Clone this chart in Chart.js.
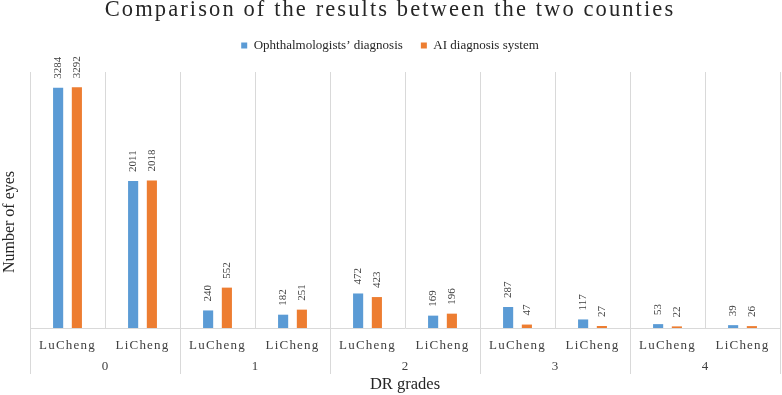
<!DOCTYPE html>
<html>
<head>
<meta charset="utf-8">
<script src="https://cdn.jsdelivr.net/npm/chart.js@4/dist/chart.umd.min.js"></script>
<style>
  html, body { margin: 0; padding: 0; background: #ffffff; }
  #wrap { width: 782px; height: 395px; position: relative; }
</style>
</head>
<body>
<div id="wrap"><canvas id="c" width="782" height="395"></canvas></div>
<script>
const counties = ['LuCheng', 'LiCheng', 'LuCheng', 'LiCheng', 'LuCheng', 'LiCheng', 'LuCheng', 'LiCheng', 'LuCheng', 'LiCheng'];
const grades = ['0', '1', '2', '3', '4'];
const ophthalmologists = [3284, 2011, 240, 182, 472, 169, 287, 117, 53, 39];
const aiSystem = [3292, 2018, 552, 251, 423, 196, 47, 27, 22, 26];

const SERIF = '"Liberation Serif", "Times New Roman", serif';
const GRID = '#d9d9d9';

const patches = {
  id: 'patches',
  beforeLayout(chart) {
    const lg = chart.legend;
    if (lg && !lg._sp) {
      const o = lg.fit.bind(lg);
      lg.fit = function () { o(); this.height = 51; };
      lg._sp = true;
    }
  },
  beforeDraw(chart) {
    const tb = chart.titleBlock;
    if (tb && !tb._sp) {
      const o = tb.draw.bind(tb);
      tb.draw = function () { const c = this.ctx; c.save(); c.letterSpacing = '2.1px'; o(); c.restore(); };
      tb._sp = true;
    }
    const sx = chart.scales.x;
    if (sx && !sx._sp) {
      const o2 = sx.drawLabels.bind(sx);
      sx.drawLabels = function (a) { const c = this.ctx; c.save(); c.letterSpacing = '1.2px'; o2(a); c.restore(); };
      sx._sp = true;
    }
    const sy = chart.scales.y;
    if (sy && !sy._sp) {
      const o3 = sy.drawTitle.bind(sy);
      sy.drawTitle = function (a) { const c = this.ctx; c.save(); c.translate(0, 22); o3(a); c.restore(); };
      sy._sp = true;
    }
  }
};

const extras = {
  id: 'extras',
  afterDatasetsDraw(chart) {
    const ctx = chart.ctx;
    ctx.save();
    ctx.font = '11px ' + SERIF;
    ctx.fillStyle = '#404040';
    ctx.textAlign = 'left';
    ctx.textBaseline = 'middle';
    chart.data.datasets.forEach((ds, di) => {
      const meta = chart.getDatasetMeta(di);
      meta.data.forEach((bar, i) => {
        ctx.save();
        ctx.translate(bar.x, bar.y - 9);
        ctx.rotate(-Math.PI / 2);
        ctx.fillText(String(ds.data[i]), 0, 0);
        ctx.restore();
      });
    });
    ctx.restore();
  },
  afterDraw(chart) {
    const sx = chart.scales.x;
    const ctx = chart.ctx;
    const half = (sx.getPixelForTick(1) - sx.getPixelForTick(0)) / 2;
    const y0 = chart.chartArea.bottom;
    const y1 = y0 + 46;
    ctx.save();
    ctx.strokeStyle = GRID;
    ctx.lineWidth = 1;
    for (let g = 0; g <= grades.length; g++) {
      const i = g * 2;
      const xp = i < counties.length ? sx.getPixelForTick(i) - half : sx.getPixelForTick(counties.length - 1) + half;
      const xx = Math.round(xp) + 0.5;
      ctx.beginPath();
      ctx.moveTo(xx, y0);
      ctx.lineTo(xx, y1);
      ctx.stroke();
    }
    ctx.restore();
  }
};

new Chart(document.getElementById('c'), {
  type: 'bar',
  data: {
    labels: counties,
    datasets: [
      { label: 'Ophthalmologists\u2019 diagnosis', data: ophthalmologists, backgroundColor: '#5B9BD5', xAxisID: 'x' },
      { label: 'AI diagnosis system', data: aiSystem, backgroundColor: '#ED7D31', xAxisID: 'x' }
    ]
  },
  options: {
    responsive: false,
    animation: false,
    devicePixelRatio: 1,
    layout: { padding: { left: 0, right: 2, top: 0, bottom: 0 } },
    datasets: { bar: { categoryPercentage: 0.5, barPercentage: 0.54 } },
    plugins: {
      title: {
        display: true,
        text: 'Comparison of the results between the two counties',
        color: '#262626',
        font: { family: SERIF, size: 22.5, weight: 'normal', lineHeight: '1px' },
        padding: { top: 10, bottom: 10 }
      },
      legend: {
        display: true,
        position: 'top',
        labels: {
          color: '#262626',
          font: { family: SERIF, size: 13 },
          boxWidth: 6,
          boxHeight: 6,
          padding: 18
        }
      },
      tooltip: { enabled: false }
    },
    scales: {
      x: {
        type: 'category',
        position: 'bottom',
        weight: 0,
        grid: { display: true, color: GRID, drawTicks: false, offset: true },
        border: { display: true, color: GRID },
        ticks: { color: '#404040', font: { family: SERIF, size: 13 }, padding: 10, maxRotation: 0, autoSkip: false },
        afterFit(scale) { scale.height = 28; }
      },
      x2: {
        type: 'category',
        position: 'bottom',
        weight: 1,
        labels: grades,
        offset: true,
        grid: { display: false, drawTicks: false },
        border: { display: false },
        ticks: { color: '#404040', font: { family: SERIF, size: 13 }, padding: 3, maxRotation: 0 },
        title: { display: true, text: 'DR grades', color: '#262626', font: { family: SERIF, size: 16.5 }, padding: { top: 0, bottom: 0 } },
        afterFit(scale) { scale.height = 39; }
      },
      y: {
        min: 0,
        max: 3500,
        grid: { display: false },
        border: { display: false },
        ticks: { display: false },
        title: { display: true, text: 'Number of eyes', color: '#262626', font: { family: SERIF, size: 16 }, padding: { top: 0, bottom: 0 } },
        afterFit(scale) { scale.width = 30; }
      }
    }
  },
  plugins: [patches, extras]
});
</script>
</body>
</html>
